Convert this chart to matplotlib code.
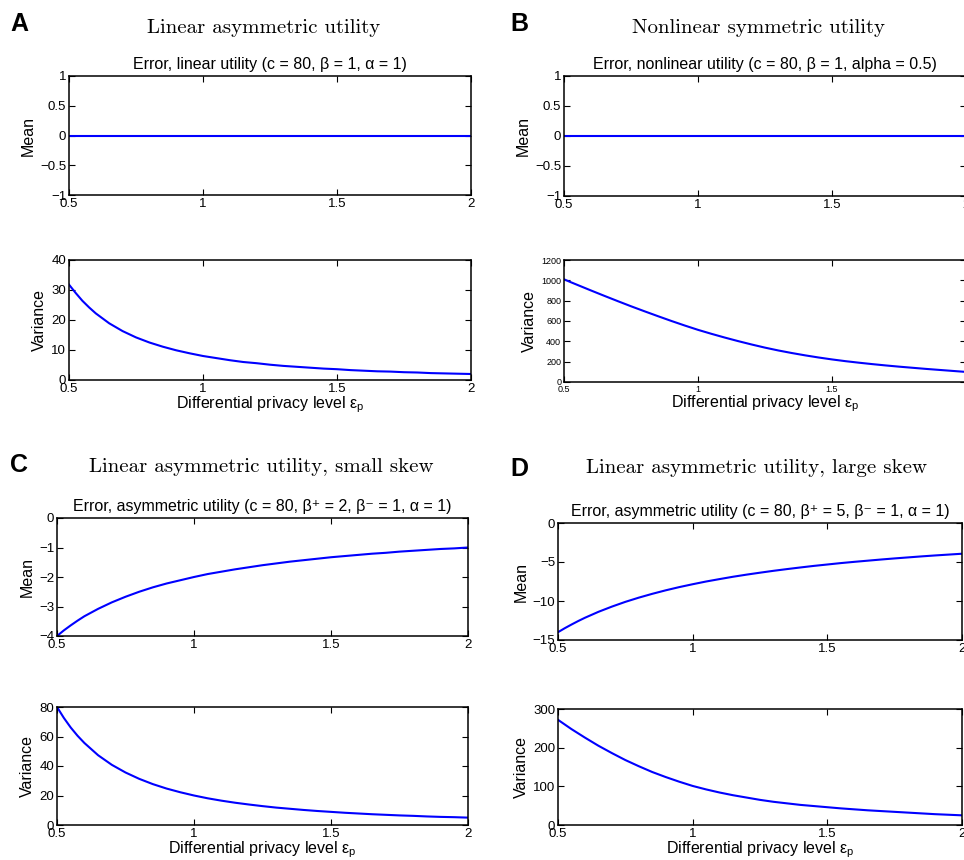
import numpy as np
import matplotlib.pyplot as plt
from matplotlib.ticker import FuncFormatter

plt.rcParams['font.family'] = ['Liberation Sans', 'DejaVu Sans']
plt.rcParams['mathtext.fontset'] = 'custom'
plt.rcParams['mathtext.rm'] = 'Liberation Sans'
plt.rcParams['mathtext.it'] = 'Liberation Sans:italic'

# privacy level epsilon_p
eps = [0.5, 0.525, 0.55, 0.575, 0.6, 0.65, 0.7, 0.75, 0.8, 0.85, 0.9, 0.95, 1.0,
       1.05, 1.1, 1.15, 1.2, 1.25, 1.3, 1.35, 1.4, 1.45, 1.5,
       1.55, 1.6, 1.65, 1.7, 1.75, 1.8, 1.85, 1.9, 1.95, 2.0]

# A: linear utility
mean_a = [0.0] * 33
var_a = [31.8, 29.0, 26.4, 24.2, 22.2, 18.9, 16.3, 14.2, 12.5, 11.1, 9.9, 8.9, 8.0,
         7.3, 6.6, 6.0, 5.6, 5.1, 4.7, 4.4, 4.1, 3.8, 3.6,
         3.3, 3.1, 2.9, 2.8, 2.6, 2.5, 2.3, 2.2, 2.1, 2.0]

# B: nonlinear utility
mean_b = [0.0] * 33
var_b = [1010, 982, 955, 928, 901, 848, 796, 745, 696, 648, 601, 556, 513,
         474, 437, 402, 369, 338, 310, 285, 262, 241, 222,
         205, 190, 176, 163, 151, 140, 129, 119, 109, 99]

# C: asymmetric, small skew
mean_c = [-4.0, -3.81, -3.64, -3.48, -3.33, -3.08, -2.86, -2.67, -2.5, -2.35, -2.22, -2.11, -2.0,
          -1.90, -1.82, -1.74, -1.67, -1.6, -1.54, -1.48, -1.43, -1.38, -1.33,
          -1.29, -1.25, -1.21, -1.18, -1.14, -1.11, -1.08, -1.05, -1.03, -1.0]
var_c = [80, 72.6, 66.1, 60.5, 55.6, 47.3, 40.8, 35.6, 31.3, 27.7, 24.7, 22.2, 20.0,
         18.1, 16.5, 15.1, 13.9, 12.8, 11.8, 11.0, 10.2, 9.5, 8.9,
         8.3, 7.8, 7.3, 6.9, 6.5, 6.2, 5.8, 5.5, 5.3, 5.0]

# D: asymmetric, large skew
mean_d = [-14.0, -13.49, -13.02, -12.57, -12.15, -11.39, -10.72, -10.11, -9.57, -9.08, -8.63, -8.22, -7.85,
          -7.50, -7.19, -6.89, -6.62, -6.37, -6.13, -5.91, -5.70, -5.50, -5.32,
          -5.14, -4.98, -4.83, -4.68, -4.54, -4.41, -4.28, -4.16, -4.05, -3.94]
var_d = [272, 260, 248, 237, 226, 205, 186, 168, 152, 137, 124, 112, 101,
         92, 84, 77, 71, 65, 60, 56, 52, 49, 46,
         43, 40.5, 38, 36, 34, 32, 30, 28, 26.5, 25]

xticks = [0.5, 1, 1.5, 2]
yticks_zero = [-1, -0.5, 0, 0.5, 1]
yticks_var_a = [0, 10, 20, 30, 40]
yticks_var_b = [0, 200, 400, 600, 800, 1000, 1200]
yticks_mean_c = [-4, -3, -2, -1, 0]
yticks_var_c = [0, 20, 40, 60, 80]
yticks_mean_d = [-15, -10, -5, 0]
yticks_var_d = [0, 100, 200, 300]

W, H = 964, 860
fig = plt.figure(figsize=(W / 100, H / 100), dpi=100)
fmt = FuncFormatter(lambda v, p: ('%g' % v).replace('-', '\u2212'))
xlab = 'Differential privacy level $\\mathregular{\u03b5_p}$'


def panel(box, x, y, yt, ylabel, title=None, xlabel=None, ts=9.5):
    l, t, r, b = box
    ax = fig.add_axes([l / W, 1 - b / H, (r - l) / W, (b - t) / H])
    ax.plot(x, y, color='#0000ff', lw=1.5)
    ax.set_xlim(0.5, 2)
    ax.set_ylim(yt[0], yt[-1])
    ax.set_xticks(xticks)
    ax.set_yticks(yt)
    ax.xaxis.set_major_formatter(fmt)
    ax.yaxis.set_major_formatter(fmt)
    ax.tick_params(direction='in', top=True, right=True, length=4,
                   width=0.8, labelsize=ts, pad=2)
    for s in ax.spines.values():
        s.set_linewidth(1.1)
    ax.set_ylabel(ylabel, fontsize=11.5, labelpad=3)
    if title:
        ax.set_title(title, fontsize=11.5, pad=5)
    if xlabel:
        ax.set_xlabel(xlabel, fontsize=11.5, labelpad=0)
    return ax


panel((69, 76, 471, 195), eps, mean_a, yticks_zero, 'Mean',
      'Error, linear utility (c = 80, \u03b2 = 1, \u03b1 = 1)')
panel((69, 260, 471, 380), eps, var_a, yticks_var_a, 'Variance', xlabel=xlab)

panel((564, 76, 966, 196), eps, mean_b, yticks_zero, 'Mean',
      'Error, nonlinear utility (c = 80, \u03b2 = 1, alpha = 0.5)')
panel((564, 260, 966, 382), eps, var_b, yticks_var_b, 'Variance', xlabel=xlab, ts=6.5)

panel((57, 518, 468, 636), eps, mean_c, yticks_mean_c, 'Mean',
      'Error, asymmetric utility (c = 80, \u03b2\u207a = 2, \u03b2\u207b = 1, \u03b1 = 1)')
panel((57, 707, 468, 825), eps, var_c, yticks_var_c, 'Variance', xlabel=xlab)

panel((558, 523, 962, 640), eps, mean_d, yticks_mean_d, 'Mean',
      'Error, asymmetric utility (c = 80, \u03b2\u207a = 5, \u03b2\u207b = 1, \u03b1 = 1)')
panel((558, 709, 962, 825), eps, var_d, yticks_var_d, 'Variance', xlabel=xlab)

# panel letters and headings
for lx, ly, letter in [(10, 24, 'A'), (510, 24, 'B'), (10, 465, 'C'), (510, 469, 'D')]:
    fig.text(lx / W, 1 - ly / H, letter, fontsize=18, fontweight='bold',
             ha='left', va='center')
for cx, cy, head in [(264, 28, 'Linear asymmetric utility'),
                     (759, 28, 'Nonlinear symmetric utility'),
                     (261, 467, 'Linear asymmetric utility, small skew'),
                     (756, 468, 'Linear asymmetric utility, large skew')]:
    fig.text(cx / W, 1 - cy / H, head, family='cmr10', fontsize=15,
             ha='center', va='center')

fig.savefig('out.png', dpi=100)
